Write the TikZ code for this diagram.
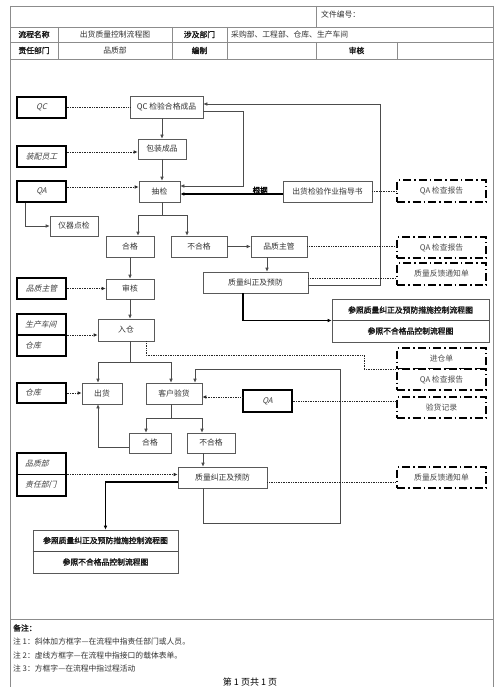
\documentclass[tikz,border=0pt]{standalone}
\usepackage{fontspec}
\setmainfont{Noto Sans CJK SC}
\newfontfamily\cjkb{Noto Sans CJK SC}[FakeBold=2]
\newfontfamily\cjki{Noto Sans CJK SC}[FakeSlant=0.25]
\usetikzlibrary{arrows.meta}
\begin{document}
\begin{tikzpicture}[x=1pt,y=-1pt,
  frame/.style={draw=black!45, line width=0.6pt},
  line/.style={draw=black!70, line width=0.6pt},
  thk/.style={draw=black, line width=1.1pt},
  arr/.style={-{Latex[length=4pt,width=3.6pt]}},
  dot/.style={draw=black!85, line width=0.8pt, dash pattern=on 0.8pt off 0.9pt},
  wh/.style 2 args={minimum width=#1pt, minimum height=#2pt},
  txt/.style={font=\fontsize{7.8}{8}\selectfont, text=black!80, inner sep=0pt},
  btxt/.style={font=\cjkb\fontsize{7.8}{8}\selectfont, text=black!90, inner sep=0pt},
  itxt/.style={font=\cjki\fontsize{7.8}{8}\selectfont, text=black!75, inner sep=0pt},
  proc/.style={draw=black!65, line width=0.6pt, fill=white, inner sep=0pt, font=\fontsize{7.8}{8}\selectfont, text=black!80},
  role/.style={draw=black, line width=1.3pt, fill=white, inner sep=0pt, font=\cjki\fontsize{7.8}{8}\selectfont, text=black!75},
  docbox/.style={draw=black, line width=1.2pt, dash pattern=on 8pt off 3pt on 1.5pt off 3pt, fill=white, inner sep=0pt, font=\fontsize{7.8}{8}\selectfont, text=black!70},
]
\useasboundingbox (0,0) rectangle (500,687);
\fill[white] (0,0) rectangle (500,687);

% ---------- frame and header table ----------
\draw[frame] (10,6) -- (493,6);
\draw[frame] (10,6) -- (10,687);
\draw[frame] (493,6) -- (493,687);
\draw[frame] (10,27) -- (493,27);
\draw[frame] (10,42) -- (493,42);
\draw[frame] (10,59) -- (493,59);
\draw[frame] (10,619) -- (493,619);
\draw[frame] (316,6) -- (316,27);
\draw[frame] (58,27) -- (58,59);
\draw[frame] (172,27) -- (172,59);
\draw[frame] (227,27) -- (227,59);
\draw[frame] (316,42) -- (316,59);
\draw[frame] (397,42) -- (397,59);

\node[txt, anchor=west] (h0) at (321,15) {文件编号：};
\node[btxt] (h1) at (34,34.5) {流程名称};
\node[txt] (h2) at (115,34.5) {出货质量控制流程图};
\node[btxt] (h3) at (199.5,34.5) {涉及部门};
\node[txt, anchor=west] (h4) at (231,34.5) {采购部、工程部、仓库、生产车间};
\node[btxt] (h5) at (34,50.5) {责任部门};
\node[txt] (h6) at (115,50.5) {品质部};
\node[btxt] (h7) at (199.5,50.5) {编制};
\node[btxt] (h8) at (356.5,50.5) {审核};

% ---------- process boxes ----------
\node[proc, wh={73}{22}] (qcin) at (166.5,107) {QC 检验合格成品};
\node[proc, wh={48}{20}] (pack) at (162,149) {包装成品};
\node[proc, wh={41}{21}] (cj) at (159.5,191.5) {抽检};
\node[proc, wh={48}{20}] (yq) at (74,226) {仪器点检};
\node[proc, wh={89}{21}] (zd) at (327.5,191.5) {出货检验作业指导书};
\node[proc, wh={48}{21}] (hg1) at (130,246.5) {合格};
\node[proc, wh={56}{21}] (bhg1) at (199,246.5) {不合格};
\node[proc, wh={56}{21}] (pz) at (279,246.5) {品质主管};
\node[proc, wh={105}{21}] (jz1) at (255.5,282.5) {质量纠正及预防};
\node[proc, wh={48}{20}] (sh) at (130,289) {审核};
\node[proc, wh={56}{22}] (rc) at (126,330) {入仓};
\node[proc, wh={40}{21}] (ch) at (102,393.5) {出货};
\node[proc, wh={56}{21}] (khyh) at (174,393.5) {客户验货};
\node[proc, wh={42}{20}] (hg2) at (150,443) {合格};
\node[proc, wh={48}{20}] (bhg2) at (211,443) {不合格};
\node[proc, wh={89}{21}] (jz2) at (222.5,477.5) {质量纠正及预防};

% reference boxes (two rows)
\node[proc, wh={157}{43}] (ref1) at (410.5,320.5) {};
\draw[line] (ref1.west) -- (ref1.east);
\node[btxt] (ref1a) at (410.5,310) {参照质量纠正及预防措施控制流程图};
\node[btxt] (ref1b) at (410.5,331) {参照不合格品控制流程图};

\node[proc, wh={145}{43}] (ref2) at (105.5,551.5) {};
\draw[line] (ref2.west) -- (ref2.east);
\node[btxt] (ref2a) at (105.5,540.5) {参照质量纠正及预防措施控制流程图};
\node[btxt] (ref2b) at (105.5,562) {参照不合格品控制流程图};

% ---------- role boxes ----------
\node[role, wh={49}{21}] (r1) at (41.5,107.5) {QC};
\node[role, wh={49}{21}] (r2) at (41.5,156.5) {装配员工};
\node[role, wh={49}{21}] (r3) at (41.5,191.5) {QA};
\node[role, wh={49}{21}] (r4) at (41.5,288.5) {品质主管};
\node[role, wh={49}{42}] (r5) at (41.5,335) {};
\draw[draw=black, line width=1.1pt] (r5.west) -- (r5.east);
\node[itxt, anchor=west] (r5a) at (25,324.5) {生产车间};
\node[itxt, anchor=west] (r5b) at (25,345.5) {仓库};
\node[role, wh={49}{20}] (r6) at (41.5,393) {};
\node[itxt, anchor=west] (r6a) at (25,393) {仓库};
\node[role, wh={49}{22}] (r7) at (267.5,401) {QA};
\node[role, wh={49}{43}] (r8) at (41.5,474.5) {};
\draw[draw=black, line width=1.1pt] (r8.west) -- (r8.east);
\node[itxt, anchor=west] (r8a) at (25,464) {品质部};
\node[itxt, anchor=west] (r8b) at (25,485) {责任部门};

% ---------- document boxes ----------
\node[docbox, wh={89}{22}] (d1) at (441.5,191) {QA 检查报告};
\node[docbox, wh={89}{21}] (d2) at (441.5,247.5) {QA 检查报告};
\node[docbox, wh={89}{22}] (d3) at (441.5,274) {质量反馈通知单};
\node[docbox, wh={89}{21}] (d4) at (441.5,358.5) {进仓单};
\node[docbox, wh={89}{21}] (d5) at (441.5,379.5) {QA 检查报告};
\node[docbox, wh={89}{21}] (d6) at (441.5,407.5) {验货记录};
\node[docbox, wh={89}{21}] (d7) at (441.5,477.5) {质量反馈通知单};

% ---------- solid connectors ----------
\draw[line,arr] (qcin.south -| pack.north) -- (pack.north);
\draw[line,arr] (pack.south) -- (pack.south |- cj.north);
\coordinate (b1) at (162,215);
\draw[line] (cj.south -| b1) -- (b1);
\draw[line,arr] (b1) -| ([xshift=8pt]hg1.north);
\draw[line,arr] (b1) -| ([xshift=-12pt]bhg1.north);
\draw[line,arr] ([yshift=-2.5pt]jz1.east) -- ++(72,0) |- ([yshift=3pt]qcin.east);
\draw[line,arr] ([yshift=-4pt]qcin.east) -- ++(40,0) |- ([yshift=5.5pt]cj.east);
\draw[thk,arr] ([yshift=-2.5pt]zd.west) -- ([yshift=-2.5pt]cj.east)
  node[pos=0.22, above=-3.5pt, font=\cjkb\fontsize{7.5}{7.5}\selectfont, text=black] {根据};
\draw[line,arr] ([xshift=-16.5pt]r3.south) |- (yq.west);
\draw[line,arr] (bhg1.east) -- (pz.west);
\draw[line,arr] ([xshift=-12pt]pz.south) -- ([xshift=-12pt]pz.south |- jz1.north);
\draw[thk,arr] ([xshift=-12.5pt]jz1.south) |- (ref1.west);
\draw[line,arr] (hg1.south) -- (sh.north);
\draw[line,arr] (sh.south) -- (sh.south |- rc.north);
\coordinate (b2) at (130,362);
\draw[line] (rc.south -| b2) -- (b2);
\draw[line,arr] (b2) -| ([xshift=-4pt]ch.north);
\draw[line,arr] (b2) -| ([xshift=-3pt]khyh.north);
\coordinate (b3) at (171,418);
\draw[line] (khyh.south -| b3) -- (b3);
\draw[line,arr] (b3) -| ([xshift=-4pt]hg2.north);
\draw[line,arr] (b3) -| ([xshift=-9pt]bhg2.north);
\draw[line,arr] ([yshift=-4pt]hg2.west) -| ([xshift=-4pt]ch.south);
\draw[line,arr] ([xshift=-8pt]bhg2.south) -- ([xshift=-8pt]bhg2.south |- jz2.north);
\coordinate (lp) at (340,369);
\draw[line,arr] ([xshift=-19.5pt]jz2.south) -- ++(0,35) -| (lp) -| ([xshift=21pt]khyh.north);
\draw[thk,arr] ([yshift=-4.5pt]jz2.west) -| (ref2.north);

% ---------- dotted connectors ----------
\draw[dot] (r1.east) -- (r1.east -| qcin.west);
\coordinate (p2) at ([yshift=-3pt]pack.west);
\draw[dot,arr] (p2 -| r2.east) -- (p2);
\coordinate (p3) at ([yshift=4.5pt]cj.west);
\draw[dot,arr] (p3 -| r3.east) -- (p3);
\draw[dot] (zd.east) -- (zd.east -| d1.west);
\draw[dot] (pz.east) -- (pz.east -| d2.west);
\coordinate (p4) at ([yshift=4.5pt]jz1.east);
\draw[dot] (p4) -- (p4 -| d3.west);
\draw[dot,arr] (r4.east) -- (r4.east -| sh.west);
\draw[dot,arr] (r5.east) -- (r5.east -| rc.west);
\coordinate (p5) at (364,355);
\draw[dot] ([xshift=20pt]rc.south) |- (p5) |- (d4.south west);
\draw[dot,arr] (r6.east) -- (r6.east -| ch.west);
\coordinate (p7) at ([yshift=-3.5pt]khyh.east);
\draw[dot,arr] (p7 -| r7.west) -- (p7);
\draw[dot] (r7.east) -- (r7.east -| d6.west);
\draw[dot,arr] (r8.east) -- (r8.east -| jz2.west);
\coordinate (p9) at ([yshift=-4.5pt]jz2.east);
\draw[dot] (p9) -- (p9 -| d7.west);

% ---------- notes ----------
\node[btxt, anchor=west] (bz) at (13,628) {备注：};
\node[txt, anchor=west] (n1) at (13,642) {注 1：斜体加方框字—在流程中指责任部门或人员。};
\node[txt, anchor=west] (n2) at (13,656) {注 2：虚线方框字—在流程中指接口的载体表单。};
\node[txt, anchor=west] (n3) at (13,669) {注 3：方框字—在流程中指过程活动};
\node[inner sep=0pt, font=\fontsize{9}{9}\selectfont, text=black] (pg) at (250,682) {第 1 页共 1 页};
\end{tikzpicture}
\end{document}
